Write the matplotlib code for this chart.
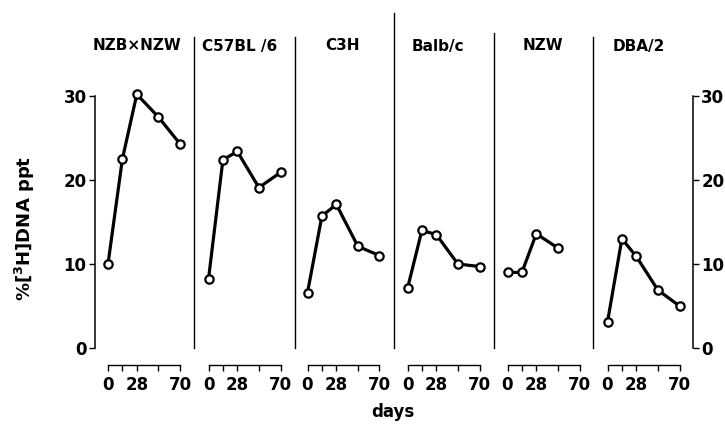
import matplotlib.pyplot as plt

# data
strains = ["NZB×NZW", "C57BL /6", "C3H", "Balb/c", "NZW", "DBA/2"]
days = [0, 14, 28, 49, 70]
ppt_nzbxnzw = [10.0, 22.5, 30.2, 27.5, 24.3]
ppt_c57 = [8.2, 22.4, 23.4, 19.1, 20.9]
ppt_c3h = [6.6, 15.7, 17.1, 12.1, 11.0]
ppt_balbc = [7.1, 14.0, 13.5, 10.0, 9.7]
ppt_nzw = [9.0, 9.0, 13.6, 11.9]
ppt_dba2 = [3.1, 13.0, 10.9, 6.9, 5.0]
series = [ppt_nzbxnzw, ppt_c57, ppt_c3h, ppt_balbc, ppt_nzw, ppt_dba2]

W, H = 725, 425
plt.rcParams["font.family"] = "DejaVu Sans"
plt.rcParams["font.weight"] = "bold"
fig = plt.figure(figsize=(W / 100, H / 100), dpi=100)

# layout in pixels
left_px = [95, 194, 295, 394, 494, 593]
right_px = [194, 295, 394, 494, 593, 693]
day0_px = [108, 208.5, 307.5, 407.5, 507.5, 607.5]
sep_top = [37, 37, 39.9, 37.5, 37]
title_px = [93, 202, 325, 412, 523, 613]
zero_y = 348
px_per_unit = 8.4
px_per_day = 72 / 70
ytop = zero_y / px_per_unit

for i, (name, vals) in enumerate(zip(strains, series)):
    L, R = left_px[i], right_px[i]
    ax = fig.add_axes([L / W, 1 - zero_y / H, (R - L) / W, zero_y / H])
    ax.plot(days[:len(vals)], vals, color="black", lw=2.3, marker="o",
            ms=6, mfc="white", mec="black", mew=1.6, clip_on=False, zorder=3)
    ax.set_xlim((L - day0_px[i]) / px_per_day, (R - day0_px[i]) / px_per_day)
    ax.set_ylim(0, ytop)
    ax.patch.set_visible(False)

    ax.spines["top"].set_visible(False)
    ax.spines["bottom"].set_position(("outward", 12.2))
    ax.spines["bottom"].set_bounds(0, 70)
    ax.spines["bottom"].set_linewidth(1.0)
    ax.set_xticks(days)
    ax.set_xticklabels(["0", "", "28", "", "70"])
    ax.tick_params(axis="x", direction="out", length=4, width=1, pad=4,
                   labelsize=12)

    ax.spines["left"].set_visible(i == 0)
    ax.spines["left"].set_bounds(0, 30)
    ax.spines["left"].set_linewidth(1.1)
    if i < 5:
        ax.spines["right"].set_bounds(0, sep_top[i])
        ax.spines["right"].set_linewidth(1.0)
    else:
        ax.spines["right"].set_bounds(0, 30)
        ax.spines["right"].set_linewidth(1.1)

    ax.set_yticks([0, 10, 20, 30])
    if i == 0:
        ax.tick_params(axis="y", left=True, right=False, labelleft=True,
                       length=4, width=1, pad=2, labelsize=12)
    elif i == 5:
        ax.tick_params(axis="y", left=False, right=True, labelleft=False,
                       labelright=True, length=4, width=1, pad=2, labelsize=12)
    else:
        ax.tick_params(axis="y", left=False, labelleft=False)

    fig.text(title_px[i] / W, 1 - 46 / H, name, ha="left", va="center",
             fontsize=11)

fig.text(25 / W, 1 - 228 / H, r"%[$^{\mathbf{3}}$H]DNA ppt", rotation=90,
         ha="center", va="center", fontsize=13)
fig.text(393 / W, 1 - 412 / H, "days", ha="center", va="center", fontsize=12)

fig.savefig("out.png", dpi=100)
